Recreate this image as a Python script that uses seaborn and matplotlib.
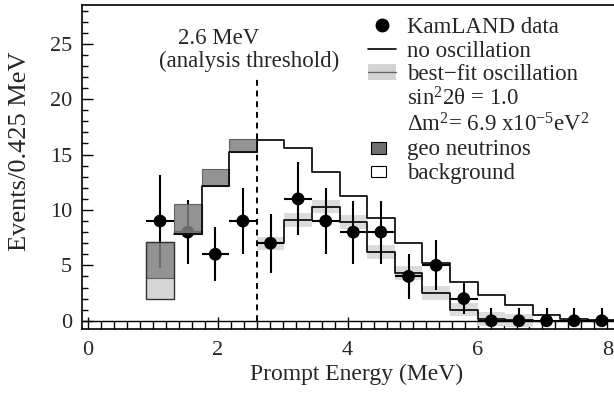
import matplotlib
matplotlib.use("Agg")
import matplotlib.pyplot as plt
import seaborn as sns
import numpy as np
import pandas as pd
from matplotlib.patches import Patch, Rectangle
from matplotlib.lines import Line2D
from matplotlib.legend_handler import HandlerPatch, HandlerTuple

# ---------------- data ----------------
bin_width = 0.425
first_edge = 0.9
n_bins = 17
data_counts = [9, 8, 6, 9, 7, 11, 9, 8, 8, 4, 5, 2, 0, 0, 0, 0, 0]
data_err_up = [4.2, 2.9, 2.45, 3.0, 2.65, 3.3, 3.0, 2.85, 2.85, 2.0, 2.25, 1.4,
               1.15, 1.15, 1.15, 1.15, 1.15]
data_err_dn = [4.2, 2.9, 2.45, 3.0, 2.65, 3.3, 3.0, 2.85, 2.85, 2.0, 2.25, 1.4,
               0, 0, 0, 0, 0]
# no-oscillation expectation, bins 2..17
no_osc = [7.8, 12.2, 15.2, 16.3, 15.6, 13.45, 11.3, 9.3, 7.0, 5.2, 3.5, 2.3,
          1.45, 0.55, 0.15, 0.05]
# best-fit oscillation, bins 5..14
best_fit = [7.0, 9.1, 10.3, 8.9, 6.2, 4.3, 2.5, 1.0, 0.15, 0.05]
best_fit_halfwidth = 0.6
# geo-neutrino boxes, bins 1..4
geo_low = [3.9, 7.8, 12.2, 15.2]
geo_high = [7.1, 10.5, 13.7, 16.4]
# best-fit band in bin 1
bf_bin1 = (2.0, 3.9)
threshold = 2.6
threshold_line_top = 21.8

# ---------------- figure ----------------
sns.set_theme(style="ticks")
plt.rcParams["font.family"] = ["Liberation Serif", "DejaVu Serif"]
plt.rcParams["mathtext.fontset"] = "custom"
plt.rcParams["mathtext.rm"] = "Liberation Serif"
plt.rcParams["mathtext.it"] = "Liberation Serif:italic"
plt.rcParams["mathtext.bf"] = "Liberation Serif:bold"

fig = plt.figure(figsize=(6.14, 4.0), dpi=100)
ax = fig.add_axes([82 / 614, 71.5 / 400, 1.002 - 82 / 614, (328.5 - 5) / 400])

edges = first_edge + bin_width * np.arange(n_bins + 1)
centers = edges[:-1] + bin_width / 2

# best-fit band (light grey)
bf_centers = centers[4:4 + len(best_fit)]
ax.bar(bf_centers, [2 * best_fit_halfwidth] * len(best_fit),
       bottom=[v - best_fit_halfwidth for v in best_fit], width=bin_width,
       color="#dcdcdc", linewidth=0, zorder=1)
ax.bar([centers[0]], [bf_bin1[1] - bf_bin1[0]], bottom=[bf_bin1[0]],
       width=bin_width, color="#d6d6d6", linewidth=0, zorder=1)

# data
ax.errorbar(centers, data_counts, yerr=[data_err_dn, data_err_up],
            xerr=bin_width / 2, fmt="none", ecolor="black", elinewidth=1.5,
            capsize=0, zorder=3)
sns.scatterplot(x=centers, y=data_counts, s=85, color="black",
                edgecolor="none", ax=ax, zorder=4)

# geo neutrino boxes
ax.bar(centers[:4], [h - l for l, h in zip(geo_low, geo_high)], bottom=geo_low,
       width=bin_width, color="#808080", alpha=0.85, edgecolor="#505050",
       linewidth=0.8, zorder=5)
# bin 1 outline
ax.bar([centers[0]], [geo_high[0] - bf_bin1[0]], bottom=[bf_bin1[0]],
       width=bin_width, fill=False, edgecolor="#333333", linewidth=1.0, zorder=5)

# no-oscillation step line
no_x = list(edges[1:1 + len(no_osc)]) + [edges[1 + len(no_osc) - 1] + bin_width]
no_y = list(no_osc) + [no_osc[-1]]
sns.lineplot(x=no_x, y=no_y, drawstyle="steps-post", estimator=None, sort=False,
             color="black", linewidth=1.2, ax=ax, zorder=6)

# best-fit step line
bf_x = list(edges[4:4 + len(best_fit)]) + [edges[4 + len(best_fit)]]
bf_y = list(best_fit) + [best_fit[-1]]
sns.lineplot(x=bf_x, y=bf_y, drawstyle="steps-post", estimator=None, sort=False,
             color="black", linewidth=1.2, ax=ax, zorder=6)

# background (near zero)
ax.axhline(0, color="black", linewidth=1.0, zorder=2)

# threshold
ax.vlines(threshold, 0, threshold_line_top, colors="black", linewidth=1.4,
          linestyles=(0, (3, 2.5)), zorder=2)
ax.text(2.02, 25.5, "2.6 MeV", ha="center", va="center", fontsize=16.5)
ax.text(2.48, 23.4, "(analysis threshold)", ha="center", va="center",
        fontsize=16.5)

# axes
ax.set_xlim(-0.09, 8.12)
ax.set_ylim(-0.7, 28.5)
ax.set_xticks([0, 2, 4, 6, 8])
ax.set_xticks(np.arange(0, 8.2, 0.2), minor=True)
ax.set_yticks([0, 5, 10, 15, 20, 25])
ax.set_yticks(np.arange(0, 29, 1), minor=True)
ax.tick_params(axis="both", which="both", direction="in", labelsize=16,
               color="black", width=1.0)
ax.tick_params(axis="x", which="major", length=9, pad=9)
ax.tick_params(axis="x", which="minor", length=6)
ax.tick_params(axis="y", which="major", length=8, pad=7)
ax.tick_params(axis="y", which="minor", length=4)
for side in ["left", "bottom", "top"]:
    ax.spines[side].set_visible(True)
    ax.spines[side].set_color("black")
    ax.spines[side].set_linewidth(1.2)
ax.spines["right"].set_visible(False)
ax.set_xlabel("Prompt Energy (MeV)", fontsize=17)
ax.set_ylabel("Events/0.425 MeV", fontsize=19)
ax.xaxis.set_label_coords((356 - 82) / 532, (328.5 - 364) / 323.5)
ax.yaxis.set_label_coords((31 - 82) / 532, (328.5 - 151) / 323.5)


# legend
def small_rect(legend, orig_handle, xdescent, ydescent, width, height, fontsize):
    return Rectangle((-xdescent + width * 0.11, -ydescent + height * 0.1),
                     width * 0.54, height * 0.7)


h_data = Line2D([], [], marker="o", linestyle="none", color="black", markersize=9)
h_no = Line2D([], [], color="black", linewidth=1.2)
h_bf = (Patch(facecolor="#d4d4d4", edgecolor="none"),
        Line2D([], [], color="#666666", linewidth=1.0))
h_blank = Line2D([], [], linestyle="none")
h_geo = Patch(facecolor="#707070", edgecolor="black", linewidth=0.8)
h_bg = Patch(facecolor="white", edgecolor="black", linewidth=0.8)
handles = [h_data, h_no, h_bf, h_blank, h_blank, h_geo, h_bg]
labels = ["KamLAND data", "no oscillation", "best\u2212fit oscillation",
          "sin$^2$2\u03b8 = 1.0", "\u0394m$^2$= 6.9 x10$^{-5}$eV$^2$",
          "geo neutrinos", "background"]
leg = ax.legend(handles, labels, loc="upper left",
                bbox_to_anchor=((367 - 82) / 532, (328.5 - 17) / 323.5),
                frameon=False, fontsize=16.5, borderpad=0, borderaxespad=0,
                handlelength=1.25, handletextpad=0.48, labelspacing=0.11,
                handler_map={h_geo: HandlerPatch(patch_func=small_rect),
                             h_bg: HandlerPatch(patch_func=small_rect),
                             tuple: HandlerTuple(ndivide=1, pad=0)})

fig.savefig("out.png", dpi=100)
